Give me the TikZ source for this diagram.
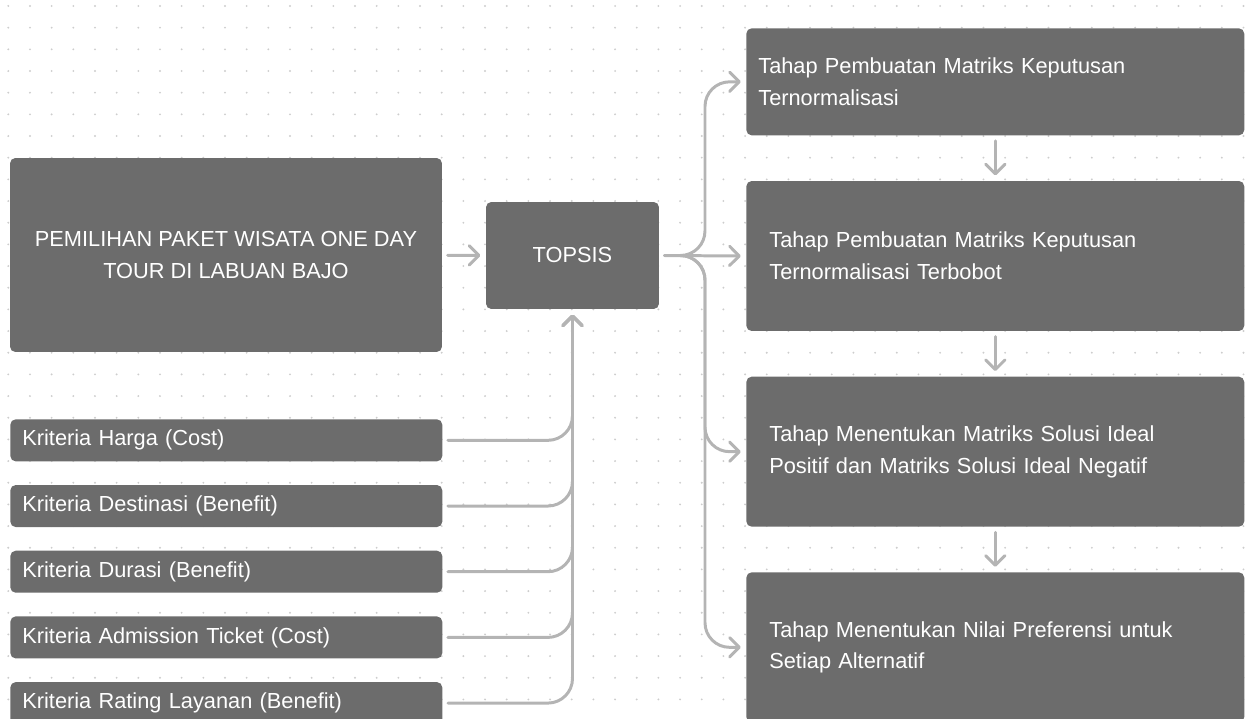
\documentclass[tikz,border=0pt]{standalone}
\usepackage{fontspec}
\setmainfont{Liberation Sans}
\usepackage{tikz}
\usetikzlibrary{positioning,arrows.meta}
\definecolor{boxgray}{RGB}{108, 108, 108}
\definecolor{linegray}{RGB}{180, 180, 180}
\definecolor{dotgray}{RGB}{205, 205, 205}

\begin{document}
\begin{tikzpicture}[
    x=0.02cm, y=-0.02cm,
    box/.style={rectangle, rounded corners=3pt, fill=boxgray, text=white, inner sep=0pt, font=\fontsize{12.4}{18}\selectfont},
    kbox/.style={box, anchor=north west, minimum width=8.64cm, minimum height=0.84cm, text width=8.16cm, inner xsep=0.24cm, align=left},
    tbox/.style={box, minimum width=9.96cm, minimum height=3cm, text width=9.04cm, inner xsep=0.46cm, align=left},
    conn/.style={-{Straight Barb[length=5.5pt, width=11pt, round]}, linegray, line width=1.7pt, line cap=round, rounded corners=14pt, shorten <=3pt, shorten >=3pt}
]

% dotted background
\useasboundingbox (0,0) rectangle (1249,719);
\foreach \i in {0,...,57}
  \foreach \j in {0,...,33}
    \fill[dotgray] (8.3+21.67*\i, 6+21.67*\j) circle (0.6pt);

% left side
\node[box, minimum width=8.64cm, minimum height=3.88cm, align=center] (wisata) at (226,255) {PEMILIHAN PAKET WISATA ONE DAY\\TOUR DI LABUAN BAJO};
\node[box, minimum width=3.46cm, minimum height=2.14cm] (topsis) at (572.5,255.5) {TOPSIS};

\node[kbox] (harga) at (10,419) {Kriteria Harga (Cost)};
\node[kbox, below=0.46cm of harga] (destinasi) {Kriteria Destinasi (Benefit)};
\node[kbox, below=0.46cm of destinasi] (durasi) {Kriteria Durasi (Benefit)};
\node[kbox, below=0.46cm of durasi] (tiket) {Kriteria Admission Ticket (Cost)};
\node[kbox, below=0.46cm of tiket] (rating) {Kriteria Rating Layanan (Benefit)};

% right side
\node[tbox, anchor=north west, minimum height=2.14cm, text width=9.48cm, inner xsep=0.24cm] (normal) at (746,28) {Tahap Pembuatan Matriks Keputusan\\Ternormalisasi};
\node[tbox, below=0.9cm of normal] (bobot) {Tahap Pembuatan Matriks Keputusan\\Ternormalisasi Terbobot};
\node[tbox, below=0.9cm of bobot] (ideal) {Tahap Menentukan Matriks Solusi Ideal\\Positif dan Matriks Solusi Ideal Negatif};
\node[tbox, below=0.9cm of ideal] (preferensi) {Tahap Menentukan Nilai Preferensi untuk\\Setiap Alternatif};

\coordinate (split) at (705,255.5);

\draw[conn] (wisata) -- (topsis);
\foreach \k in {harga,destinasi,durasi,tiket,rating}
  \draw[conn] (\k.east) -| (topsis.south);

\draw[conn] (topsis.east) -- (split) |- (normal.west);
\draw[conn] (topsis.east) -- (bobot.west);
\draw[conn] (topsis.east) -- (split) |- (ideal.west);
\draw[conn] (topsis.east) -- (split) |- (preferensi.west);

\draw[conn] (normal) -- (bobot);
\draw[conn] (bobot) -- (ideal);
\draw[conn] (ideal) -- (preferensi);

\end{tikzpicture}
\end{document}
